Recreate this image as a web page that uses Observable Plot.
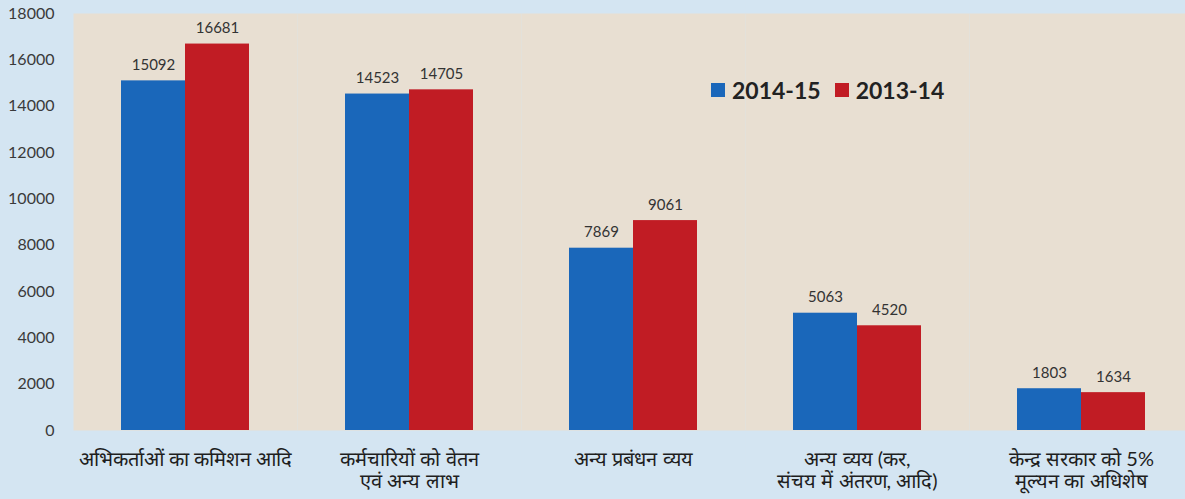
<!DOCTYPE html>
<html>
<head>
<meta charset="utf-8">
<script src="https://cdn.jsdelivr.net/npm/d3@7"></script>
<script src="https://cdn.jsdelivr.net/npm/@observablehq/plot@0.6"></script>
<style>
  html, body { margin: 0; padding: 0; overflow: hidden; }
  body { background: #d4e5f2; width: 1185px; height: 499px; position: relative; font-family: Lato, "Open Sans", sans-serif; }
  #chart { position: absolute; left: 0; top: 0; }
  #legend { position: absolute; left: 711px; top: 76px; display: flex; align-items: center; font-weight: bold; font-size: 23px; color: #222; font-family: Lato, sans-serif; }
  #legend .sw { width: 14px; height: 14px; display: inline-block; margin-right: 7px; }
  #legend .item { display: flex; align-items: center; margin-right: 14px; }
</style>
</head>
<body>
<div id="chart"></div>
<div id="legend"></div>
<script>
const categories = [
  "अभिकर्ताओं का कमिशन आदि",
  "कर्मचारियों को वेतन\nएवं अन्य लाभ",
  "अन्य प्रबंधन व्यय",
  "अन्य व्यय (कर,\nसंचय में अंतरण, आदि)",
  "केन्द्र सरकार को 5%\nमूल्यन का अधिशेष"
];
const series = ["2014-15", "2013-14"];
const values2014_15 = [15092, 14523, 7869, 5063, 1803];
const values2013_14 = [16681, 14705, 9061, 4520, 1634];
const colors = ["#1a67ba", "#c11c24"];
const yTicks = [0, 2000, 4000, 6000, 8000, 10000, 12000, 14000, 16000, 18000];

const rows = categories.flatMap((c, i) => [
  {category: c, series: series[0], value: values2014_15[i]},
  {category: c, series: series[1], value: values2013_14[i]}
]);

const chart = Plot.plot({
  width: 1185,
  height: 499,
  marginLeft: 73,
  marginRight: -8,
  marginTop: 13,
  marginBottom: 69,
  style: {background: "transparent", fontFamily: "Lato, 'Open Sans', sans-serif", color: "#333"},
  fx: {domain: categories, padding: 0, label: null},
  x: {domain: series, paddingInner: 0, paddingOuter: 0.75, axis: null},
  y: {domain: [0, 18000], label: null},
  color: {domain: series, range: colors},
  marks: [
    Plot.frame({fill: "#e8dfd2", stroke: null}),
    Plot.axisY({ticks: yTicks, tickSize: 0, tickPadding: 19, fontSize: 16, tickFormat: d => String(d), label: null, fill: "#3a3a3a"}),
    Plot.axisFx({anchor: "bottom", tickSize: 0, tickPadding: 20, fontSize: 20, label: null, fill: "#1e1e1e", lineHeight: 1.1}),
    Plot.barY(rows, {fx: "category", x: "series", y: "value", fill: "series", inset: 0}),
    Plot.text(rows, {fx: "category", x: "series", y: "value", text: d => String(d.value), lineAnchor: "bottom", dy: -11, fontSize: 15, fill: "#333"})
  ]
});
document.getElementById("chart").appendChild(chart);

const legend = document.getElementById("legend");
series.forEach((s, i) => {
  const item = document.createElement("div");
  item.className = "item";
  const sw = document.createElement("span");
  sw.className = "sw";
  sw.style.background = colors[i];
  const t = document.createElement("span");
  t.textContent = s;
  item.appendChild(sw);
  item.appendChild(t);
  legend.appendChild(item);
});
</script>
</body>
</html>
